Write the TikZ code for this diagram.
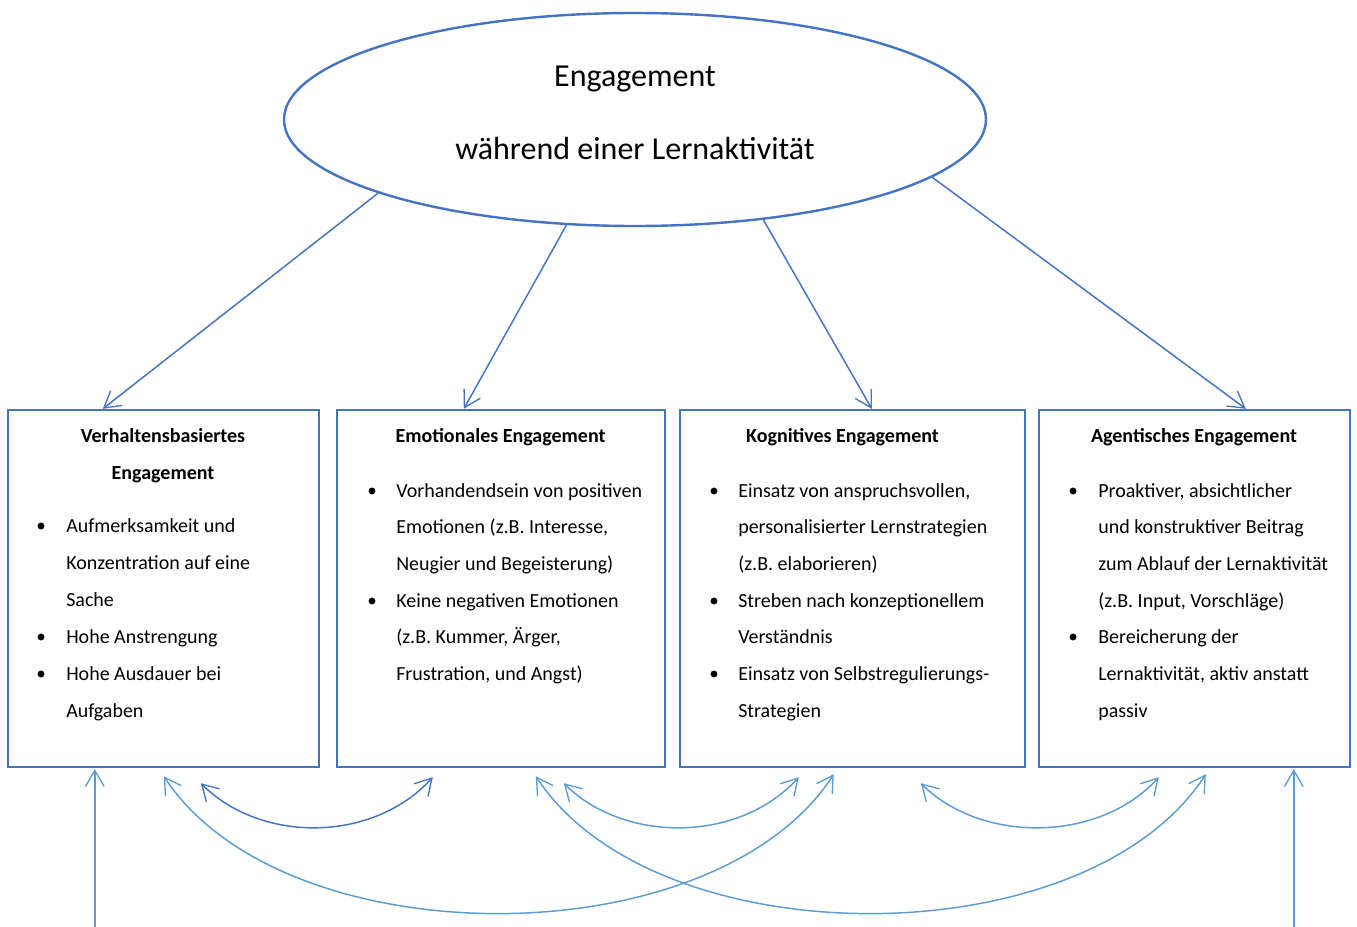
\documentclass[tikz,border=0pt]{standalone}
\usepackage{fontspec}
\setmainfont{Carlito}
\usetikzlibrary{arrows.meta,shapes.geometric,calc}
\definecolor{frameblue}{HTML}{4472C4}
\definecolor{lightblue}{HTML}{5B9BD5}
\begin{document}
\begin{tikzpicture}[x=0.75pt,y=-0.75pt,
  barb/.tip={Straight Barb[length=12pt,width=14pt,line width=1pt]},
  frame/.style={draw=frameblue,line width=1.8pt,rectangle,inner sep=0pt,
    minimum height=267.75pt},
  txt/.style={font=\fontsize{15}{18}\selectfont,inner sep=0pt,anchor=base west},
  head/.style={font=\fontsize{15}{18}\selectfont\bfseries,inner sep=0pt,anchor=base},
  bul/.style={circle,fill=black,inner sep=0pt,minimum size=5.2pt},
  topline/.style={draw=frameblue,line width=1.1pt,-barb},
  lowline/.style={draw=lightblue,line width=1.1pt},
]
\useasboundingbox (0,0) rectangle (1357,927);

% central concept
\node[ellipse,draw=frameblue,line width=1.8pt,inner sep=0pt,
  minimum width=526.5pt,minimum height=159.75pt] (eng) at (635,119.5) {};
\node[font=\fontsize{24}{28}\selectfont,inner sep=0pt,anchor=base] (engA) at (635,87) {Engagement};
\node[font=\fontsize{24}{28}\selectfont,inner sep=0pt,anchor=base] (engB) at (635,160) {während einer Lernaktivität};

% four dimension boxes
\node[frame,minimum width=233.25pt] (b1) at (163.5,588.5) {};
\node[frame,minimum width=246pt]    (b2) at (501,588.5) {};
\node[frame,minimum width=258.75pt] (b3) at (852.5,588.5) {};
\node[frame,minimum width=233.25pt] (b4) at (1194.5,588.5) {};

% box 1
\node[head] (h1a) at (163,442) {Verhaltensbasiertes};
\node[head] (h1b) at (163,479) {Engagement};
\foreach \y/\t [count=\i] in {532/{Aufmerksamkeit und},569/{Konzentration auf eine},606/{Sache},643/{Hohe Anstrengung},680/{Hohe Ausdauer bei},717/{Aufgaben}}
  \node[txt] (b1t\i) at (66,\y) {\t};
\foreach \y [count=\i] in {532,643,680}
  \node[bul] (b1d\i) at (41,\y-6) {};

% box 2
\node[head] (h2) at (500.5,442) {Emotionales Engagement};
\foreach \y/\t [count=\i] in {497/{Vorhandendsein von positiven},533/{Emotionen (z.B. Interesse,},570/{Neugier und Begeisterung)},607/{Keine negativen Emotionen},643/{(z.B. Kummer, Ärger,},680/{Frustration, und Angst)}}
  \node[txt] (b2t\i) at (396,\y) {\t};
\foreach \y [count=\i] in {497,607}
  \node[bul] (b2d\i) at (372,\y-6) {};

% box 3
\node[head] (h3) at (842.5,442) {Kognitives Engagement};
\foreach \y/\t [count=\i] in {497/{Einsatz von anspruchsvollen,},533/{personalisierter Lernstrategien},570/{(z.B. elaborieren)},607/{Streben nach konzeptionellem},643/{Verständnis},680/{Einsatz von Selbstregulierungs-},717/{Strategien}}
  \node[txt] (b3t\i) at (738,\y) {\t};
\foreach \y [count=\i] in {497,607,680}
  \node[bul] (b3d\i) at (714,\y-6) {};

% box 4
\node[head] (h4) at (1194,442) {Agentisches Engagement};
\foreach \y/\t [count=\i] in {497/{Proaktiver, absichtlicher},533/{und konstruktiver Beitrag},570/{zum Ablauf der Lernaktivität},607/{(z.B. Input, Vorschläge)},643/{Bereicherung der},680/{Lernaktivität, aktiv anstatt},717/{passiv}}
  \node[txt] (b4t\i) at (1098,\y) {\t};
\foreach \y [count=\i] in {497,643}
  \node[bul] (b4d\i) at (1073,\y-6) {};

% arrows from the concept to its dimensions
\draw[topline] (eng.196.3) -- ($(b1.north west)+(96,0)$);
\draw[topline] (eng.237.4) -- ($(b2.north west)+(128,0)$);
\draw[topline] (eng.322.5) -- ($(b3.north west)+(193,0)$);
\draw[topline] (eng.349.1) -- ($(b4.north west)+(208,0)$);

% attachment points below the boxes
\coordinate (in1) at ($(b1.south west)+(88,160)$);
\coordinate (up1) at ($(b1.south west)+(88,1)$);
\coordinate (in4) at ($(b4.south west)+(256,160)$);
\coordinate (up4) at ($(b4.south west)+(256,1)$);
\coordinate (a1) at ($(b1.south west)+(194,15)$);
\coordinate (a2) at ($(b2.south west)+(97,9)$);
\coordinate (c1) at ($(b1.south west)+(157,8)$);
\coordinate (c3) at ($(b3.south west)+(155,6)$);
\coordinate (d2) at ($(b2.south west)+(200,8)$);
\coordinate (d4) at ($(b4.south west)+(168,6)$);
\coordinate (e2) at ($(b2.south west)+(228,15)$);
\coordinate (e3) at ($(b3.south west)+(120,9)$);
\coordinate (f3) at ($(b3.south west)+(242,15)$);
\coordinate (f4) at ($(b4.south west)+(121,9)$);

% external inputs
\draw[lowline,-barb] (in1) -- (up1);
\draw[lowline,-barb] (in4) -- (up4);

% mutual relations between the dimensions
\draw[draw=frameblue,line width=1.1pt,barb-barb] (a1) .. controls +(60,60) and +(-60,66) .. (a2);
\draw[lowline,barb-barb] (e2) .. controls +(60,60) and +(-60,66) .. (e3);
\draw[lowline,barb-barb] (f3) .. controls +(60,60) and +(-60,66) .. (f4);
\draw[lowline,barb-barb] (c1) .. controls +(120,183) and +(-120,185) .. (c3);
\draw[lowline,barb-barb] (d2) .. controls +(120,183) and +(-120,185) .. (d4);
\end{tikzpicture}
\end{document}
